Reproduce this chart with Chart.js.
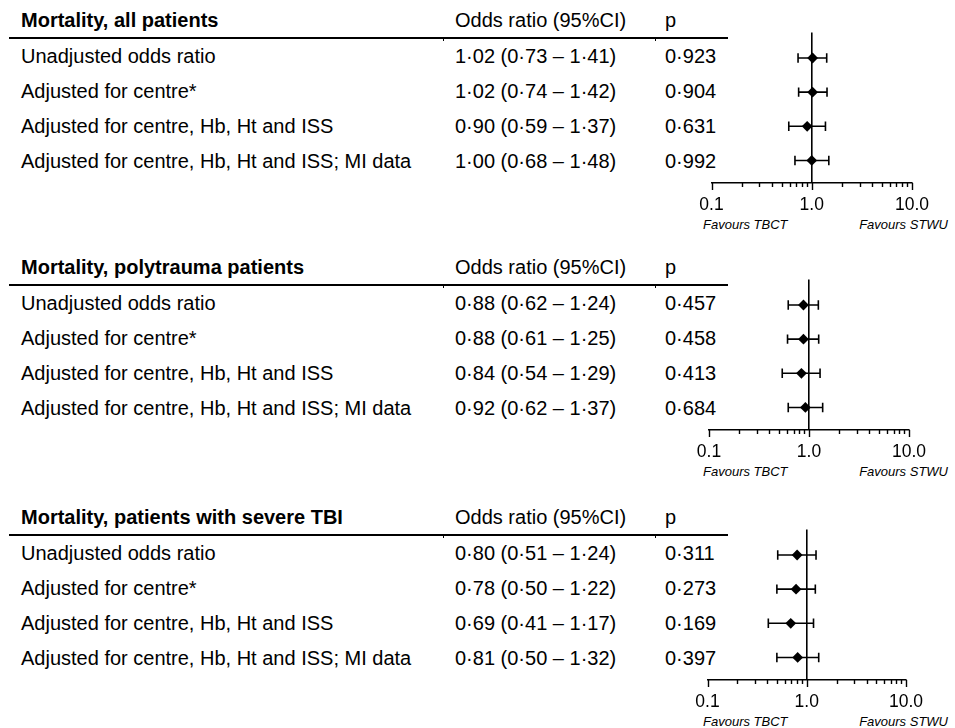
<!DOCTYPE html>
<html>
<head>
<meta charset="utf-8">
<script src="https://cdn.jsdelivr.net/npm/chart.js@4.4.1/dist/chart.umd.min.js"></script>
<style>
    html, body { margin: 0; padding: 0; background: #fff; }
    body { width: 955px; height: 728px; position: relative; overflow: hidden;
           font-family: "Liberation Sans", Arial, sans-serif; color: #000; }
    .t { position: absolute; white-space: nowrap; font-size: 20px; line-height: 24px; }
    .b { font-weight: bold; }
    .rule { position: absolute; background: #000; }
    .fav { position: absolute; white-space: nowrap; font-size: 13px; line-height: 16px; font-style: italic; }
    canvas.plot { position: absolute; }
</style>
</head>
<body>
<script>
/* ==============================
   DATA
 ============================== */
const panelTitles = ['Mortality, all patients', 'Mortality, polytrauma patients', 'Mortality, patients with severe TBI'];
const rowLabels = ['Unadjusted odds ratio', 'Adjusted for centre*', 'Adjusted for centre, Hb, Ht and ISS', 'Adjusted for centre, Hb, Ht and ISS; MI data'];
const colHeads = ['Odds ratio (95%CI)', 'p'];

// all patients
const orAll = [1.02, 1.02, 0.90, 1.00];
const loAll = [0.73, 0.74, 0.59, 0.68];
const hiAll = [1.41, 1.42, 1.37, 1.48];
const pAll = ['0·923', '0·904', '0·631', '0·992'];

// polytrauma
const orPoly = [0.88, 0.88, 0.84, 0.92];
const loPoly = [0.62, 0.61, 0.54, 0.62];
const hiPoly = [1.24, 1.25, 1.29, 1.37];
const pPoly = ['0·457', '0·458', '0·413', '0·684'];

// severe TBI
const orTbi = [0.80, 0.78, 0.69, 0.81];
const loTbi = [0.51, 0.50, 0.41, 0.50];
const hiTbi = [1.24, 1.22, 1.17, 1.32];
const pTbi = ['0·311', '0·273', '0·169', '0·397'];

// log axis
const tickValues = [0.1, 0.2, 0.3, 0.4, 0.5, 0.6, 0.7, 0.8, 0.9, 1, 2, 3, 4, 5, 6, 7, 8, 9, 10];
const majorTicks = [0.1, 1, 10];
const tickLabels = ['0.1', '1.0', '10.0'];
const favourLabels = ['Favours TBCT', 'Favours STWU'];

/* ==============================
   LAYOUT
 ============================== */
const panels = [
    { title: panelTitles[0], or: orAll, lo: loAll, hi: hiAll, p: pAll, top: 0, x01: 711.5, x10: 912 },
    { title: panelTitles[1], or: orPoly, lo: loPoly, hi: hiPoly, p: pPoly, top: 247, x01: 709, x10: 909 },
    { title: panelTitles[2], or: orTbi, lo: loTbi, hi: hiTbi, p: pTbi, top: 497, x01: 707.5, x10: 906 }
];
const colX = [21, 455, 665];
const canvasLeft = 690, canvasWidth = 265;

const fmt = (v) => v.toFixed(2).replace('.', '·');

const addText = (txt, x, yCenter, cls) => {
    const el = document.createElement('div');
    el.className = 't' + (cls ? ' ' + cls : '');
    el.textContent = txt;
    el.style.left = x + 'px';
    el.style.top = (yCenter - 12) + 'px';
    document.body.appendChild(el);
};

const addRule = (x, y, w, h) => {
    const el = document.createElement('div');
    el.className = 'rule';
    Object.assign(el.style, { left: x + 'px', top: y + 'px', width: w + 'px', height: h + 'px' });
    document.body.appendChild(el);
};

// --- error bars + axis ticks ---
const forestPlugin = {
    id: 'forest',
    beforeDatasetsDraw(chart, args, opts) {
        const { ctx, scales: { x, y } } = chart;
        ctx.save();
        ctx.strokeStyle = '#000';
        ctx.lineWidth = 1.6;
        opts.lo.forEach((l, i) => {
            const yy = y.getPixelForValue(i);
            const x1 = x.getPixelForValue(l), x2 = x.getPixelForValue(opts.hi[i]);
            ctx.beginPath();
            ctx.moveTo(x1, yy); ctx.lineTo(x2, yy);
            ctx.moveTo(x1, yy - 4.7); ctx.lineTo(x1, yy + 4.7);
            ctx.moveTo(x2, yy - 4.7); ctx.lineTo(x2, yy + 4.7);
            ctx.stroke();
        });
        ctx.restore();
    },
    afterDraw(chart) {
        const { ctx, scales: { x }, chartArea } = chart;
        ctx.save();
        ctx.strokeStyle = '#000';
        ctx.lineWidth = 1.4;
        ctx.beginPath();
        x.ticks.forEach(t => {
            const px = Math.round(x.getPixelForValue(t.value)) + 0.5;
            const len = majorTicks.includes(t.value) ? 7 : 4;
            ctx.moveTo(px, chartArea.bottom);
            ctx.lineTo(px, chartArea.bottom + len);
        });
        ctx.stroke();
        ctx.restore();
    }
};

function drawPanel(pn) {
    const off = pn.top;
    addText(pn.title, colX[0], off + 20, 'b');
    addText(colHeads[0], colX[1], off + 20);
    addText(colHeads[1], colX[2], off + 20);
    addRule(9, off + 37, 719, 2);
    addRule(443, off + 38, 1, 3);
    addRule(655, off + 38, 1, 3);

    rowLabels.forEach((lab, i) => {
        const yc = off + 56 + i * 35;
        addText(lab, colX[0], yc);
        addText(`${fmt(pn.or[i])} (${fmt(pn.lo[i])} – ${fmt(pn.hi[i])})`, colX[1], yc);
        addText(pn.p[i], colX[2], yc);
    });

    const fl = document.createElement('div');
    fl.className = 'fav';
    fl.textContent = favourLabels[0];
    fl.style.left = '703px';
    fl.style.top = (off + 217) + 'px';
    document.body.appendChild(fl);
    const fr = document.createElement('div');
    fr.className = 'fav';
    fr.textContent = favourLabels[1];
    fr.style.right = '7px';
    fr.style.top = (off + 217) + 'px';
    document.body.appendChild(fr);

    const cv = document.createElement('canvas');
    cv.className = 'plot';
    cv.width = canvasWidth;
    cv.height = 201;
    cv.style.left = canvasLeft + 'px';
    cv.style.top = (off + 27) + 'px';
    document.body.appendChild(cv);

    new Chart(cv.getContext('2d'), {
        type: 'scatter',
        data: {
            datasets: [{
                data: pn.or.map((v, i) => ({ x: v, y: i })),
                pointStyle: 'rectRot',
                pointRadius: 5.4,
                backgroundColor: '#000',
                borderColor: '#000',
                borderWidth: 0
            }]
        },
        options: {
            responsive: false,
            animation: false,
            events: [],
            layout: { padding: { left: pn.x01 - canvasLeft, right: canvasLeft + canvasWidth - pn.x10, top: 5, bottom: 0 } },
            plugins: {
                legend: { display: false },
                tooltip: { enabled: false },
                forest: { lo: pn.lo, hi: pn.hi }
            },
            scales: {
                x: {
                    type: 'logarithmic',
                    min: 0.1,
                    max: 10,
                    afterBuildTicks: (scale) => { scale.ticks = tickValues.map(v => ({ value: v, major: majorTicks.includes(v) })); },
                    afterFit: (scale) => { scale.height = 45; scale.paddingLeft = 0; scale.paddingRight = 0; },
                    grid: {
                        display: true,
                        drawTicks: false,
                        lineWidth: 1.6,
                        color: (c) => (c.tick && c.tick.value === 1) ? '#000' : 'rgba(0,0,0,0)'
                    },
                    border: { display: true, color: '#000', width: 1.6 },
                    ticks: {
                        autoSkip: false,
                        maxRotation: 0,
                        padding: 12,
                        color: '#000',
                        font: { family: 'Liberation Sans', size: 17.5 },
                        callback: (v) => { const k = majorTicks.indexOf(v); return k >= 0 ? tickLabels[k] : ''; }
                    }
                },
                y: { type: 'linear', display: false, reverse: true, min: -0.75, max: 3.66 }
            }
        },
        plugins: [forestPlugin]
    });
}

panels.forEach(drawPanel);
</script>
</body>
</html>
